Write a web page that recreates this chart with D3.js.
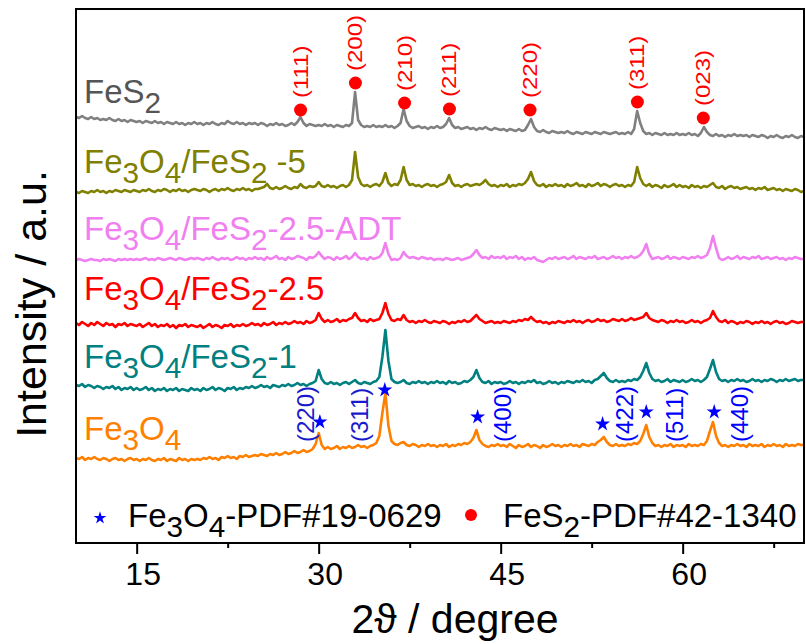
<!DOCTYPE html>
<html>
<head>
<meta charset="utf-8">
<script src="https://cdn.jsdelivr.net/npm/d3@7"></script>
<style>
    body { margin: 0; background: #fff; }
    text { font-family: "Liberation Sans", Arial, sans-serif; }
</style>
</head>
<body>
<svg id="chart" width="806" height="644"></svg>
<script>
// 2theta grid, one reading every 0.25 degree from 10 to 70
const twoTheta = d3.range(0, 241).map(i => 10 + i * 0.25);

// intensities (a.u., relative to each curve's own offset)
const fes2 = [
    0,-1,1,-1,-2,0,-2,-1,-3,-2,-3,-1,-3,-4,-2,-4,-3,-5,-3,-4,
    -5,-4,-6,-4,-5,-6,-4,-6,-5,-7,-5,-6,-7,-5,-7,-6,-8,-6,-7,-5,
    -7,-6,-8,-6,-7,-5,-7,-8,-6,-7,-4,-6,-7,-5,-7,-6,-8,-6,-7,-6,
    -8,-6,-7,-9,-7,-8,-6,-8,-7,-9,-8,-6,-8,-5,0,-6,-9,-7,-8,-9,
    -8,-9,-7,-9,-8,-10,-8,-9,-10,-8,-9,-6,25,-3,-8,-10,-9,-10,-8,-10,
    -9,-10,-8,-10,-9,-11,-9,-6,8,-4,-9,-11,-10,-9,-11,-10,-12,-10,-11,-9,
    -11,-10,-7,-1,-8,-11,-10,-12,-11,-10,-12,-11,-13,-11,-12,-10,-12,-13,-11,-12,
    -13,-12,-14,-12,-13,-14,-12,-14,-13,-8,-2,-10,-14,-15,-13,-15,-16,-14,-15,-16,
    -15,-16,-14,-16,-17,-15,-16,-17,-15,-16,-17,-15,-16,-17,-15,-16,-17,-16,-15,-17,
    -16,-17,-15,-17,-12,6,-6,-14,-17,-16,-18,-16,-17,-18,-16,-18,-17,-18,-16,-18,
    -17,-18,-16,-18,-17,-19,-16,-10,-15,-18,-19,-17,-19,-18,-20,-18,-19,-17,-19,-18,
    -19,-18,-20,-18,-19,-20,-18,-19,-21,-19,-20,-18,-20,-21,-19,-20,-18,-20,-21,-19,
    -20
];
const fe3o4Fes2_5 = [
    0,-1,1,0,-1,1,0,2,0,1,-1,1,0,2,1,0,2,1,0,2,
    1,0,2,1,3,1,0,2,1,3,2,0,2,1,3,1,2,0,2,3,
    2,1,3,2,0,2,3,1,3,2,4,2,1,3,2,4,2,3,1,3,
    3,4,5,8,4,3,5,3,4,6,4,3,5,4,8,5,4,6,5,6,
    10,6,5,7,5,6,4,6,7,5,7,12,40,15,8,6,7,5,7,8,
    6,10,19,9,6,8,7,12,25,12,7,8,6,7,5,7,8,6,7,5,
    7,8,10,17,9,6,7,5,7,8,6,7,8,7,9,12,8,6,7,5,
    7,6,8,5,7,6,8,7,9,13,20,11,7,6,8,5,7,6,8,6,
    7,5,8,6,7,9,6,7,5,8,6,7,9,6,8,7,5,7,8,6,
    7,5,7,6,10,25,14,8,6,8,5,7,6,4,7,5,6,8,5,7,
    5,6,4,7,5,6,4,6,5,7,9,5,4,6,3,5,6,4,5,3,
    4,5,3,4,2,4,3,5,2,3,4,2,3,1,3,2,1,3,2,0,
    1
];
const fe3o4Fes2_25Adt = [
    0,1,0,-1,0,1,0,0,-1,1,0,1,0,-1,1,0,1,0,1,0,
    1,0,1,2,0,1,0,2,1,0,1,2,1,0,2,1,0,1,2,1,
    2,1,0,2,1,3,1,0,2,1,2,0,1,3,1,2,0,2,1,3,
    1,2,0,3,1,2,4,1,2,0,3,1,2,4,3,2,0,3,2,4,
    8,4,1,3,2,0,3,1,2,4,1,3,7,3,1,2,0,3,1,2,
    3,7,17,6,0,1,0,2,8,4,2,3,2,1,3,2,1,2,0,1,
    1,0,2,1,0,1,2,0,1,2,3,6,10,5,2,3,1,4,2,3,
    2,4,1,3,2,4,1,3,0,2,1,3,0,-1,-2,0,2,1,3,1,
    2,3,1,2,4,1,3,2,1,3,2,4,1,2,3,1,2,4,2,3,
    1,3,2,4,2,3,5,9,16,6,1,2,3,1,2,4,1,3,2,1,
    3,2,1,3,2,4,2,3,5,12,24,12,2,0,1,3,1,2,4,1,
    3,2,1,3,2,4,1,2,3,1,2,3,1,2,0,2,1,3,2,1,
    1
];
const fe3o4Fes2_25 = [
    0,-2,1,-1,-3,0,-2,1,-1,-3,0,-2,-1,-4,-1,-2,0,-3,-1,-2,
    -3,-1,-4,-2,0,-3,-1,-4,-2,-3,-1,-4,-2,-5,-2,-3,-1,-4,-2,-3,
    -4,-2,-5,-3,-1,-4,-2,-3,-5,-2,-3,-1,-4,-2,-3,-1,-3,-2,0,-2,
    -1,-3,0,-2,-1,1,-2,0,-1,1,-1,0,2,0,1,-1,2,0,1,3,
    10,4,1,3,1,2,4,1,3,2,4,5,10,5,2,3,1,4,2,3,
    4,10,20,9,3,2,4,3,8,3,1,2,0,2,1,3,1,0,2,1,
    0,2,1,-1,1,0,2,1,3,1,2,5,8,4,2,0,1,2,0,1,
    0,2,1,0,2,1,3,2,4,3,6,3,1,2,0,1,-1,1,0,2,
    1,0,2,1,3,1,2,0,2,3,1,2,4,2,3,1,2,4,3,2,
    4,2,3,5,3,4,5,6,10,5,3,2,1,3,2,0,2,1,3,1,
    2,0,1,3,1,2,0,2,3,5,12,6,2,1,3,0,2,1,-1,1,
    0,2,1,-1,1,0,2,0,1,-1,1,2,0,1,-1,0,2,1,0,1,
    1
];
const fe3o4Fes2_1 = [
    0,-1,1,-2,0,-1,-3,-1,-2,-4,-2,-3,-1,-4,-2,-5,-3,-4,-2,-5,
    -3,-5,-4,-2,-5,-3,-6,-4,-5,-3,-6,-4,-5,-3,-6,-4,-5,-6,-3,-5,
    -4,-6,-3,-5,-4,-2,-5,-3,-4,-6,-3,-4,-2,-5,-3,-4,-2,-3,-1,-3,
    -2,0,-2,-1,-3,0,-1,-2,0,-1,1,-1,0,2,0,1,-1,1,2,4,
    15,6,2,1,3,1,2,0,2,3,1,3,5,2,1,3,2,1,3,4,
    8,28,55,24,6,3,2,3,5,2,1,3,2,4,2,3,1,3,2,4,
    2,3,1,4,2,3,1,2,4,3,5,8,15,7,3,2,4,1,3,2,
    3,1,2,4,2,3,1,3,2,4,3,5,2,3,1,2,4,2,3,1,
    3,2,4,3,2,4,3,5,3,4,2,5,6,9,12,7,4,3,5,3,
    4,3,5,4,6,5,8,14,22,12,6,4,5,3,4,6,3,5,4,3,
    5,3,4,6,4,5,3,5,8,16,25,13,6,4,5,3,5,4,6,4,
    5,3,4,6,4,5,3,5,4,6,5,3,5,4,6,4,5,6,4,5,
    5
];
const fe3o4 = [
    0,-1,1,-2,0,-1,1,-1,-2,0,-1,-3,-1,0,-2,-1,-3,-1,0,-2,
    -1,-3,-1,-2,0,-2,-3,-1,-2,0,-3,-1,-2,-3,0,-2,-1,-3,-1,-2,
    -1,-2,0,-1,1,-1,0,-2,1,0,2,0,1,-1,2,1,3,1,2,3,
    2,4,3,2,4,3,5,3,4,6,4,5,7,5,6,8,6,7,9,14,
    25,13,9,11,9,10,12,9,11,10,12,10,11,13,11,12,10,12,13,15,
    22,45,65,32,17,14,13,15,16,13,12,14,13,11,13,12,14,12,13,11,
    13,12,14,11,13,12,14,13,15,14,16,20,28,18,14,12,11,13,12,14,
    12,13,11,14,12,10,13,11,12,14,11,13,12,10,13,11,12,14,12,13,
    11,13,12,14,12,13,11,14,13,12,14,13,16,18,21,16,13,12,14,12,
    13,12,14,13,15,14,17,24,33,21,15,12,13,11,13,12,14,11,13,12,
    13,11,14,12,13,12,14,13,17,27,36,22,15,12,13,11,13,12,14,12,
    13,11,14,12,13,12,14,11,13,12,14,12,13,11,14,12,13,12,14,13,
    13
];

const seriesNames = ["FeS_2", "Fe_3O_4/FeS_2 -5", "Fe_3O_4/FeS_2-2.5-ADT", "Fe_3O_4/FeS_2-2.5", "Fe_3O_4/FeS_2-1", "Fe_3O_4"];
const seriesOffsets = [426, 351, 283, 220, 158, 85];
const seriesValues = [fes2, fe3o4Fes2_5, fe3o4Fes2_25Adt, fe3o4Fes2_25, fe3o4Fes2_1, fe3o4];

// reference peaks
const fes2Peaks = [28.51, 33.03, 37.08, 40.78, 47.42, 56.27, 61.70];
const fes2Hkl = ["(111)", "(200)", "(210)", "(211)", "(220)", "(311)", "(023)"];
const fes2MarkerY = [433, 460, 440, 434, 433, 441, 425];
const fe3o4Peaks = [30.1, 35.45, 43.1, 53.4, 57.0, 62.6];
const fe3o4Hkl = ["(220)", "(311)", "(400)", "(422)", "(511)", "(440)"];
const fe3o4MarkerY = [121, 153, 126, 119, 131, 131];

const majorTicks = [15, 30, 45, 60];
const minorTicks = [22.5, 37.5, 52.5, 67.5];

// styles / layout
const SERIES_COLORS = ["#808080", "#808000", "#f080f0", "#ff0000", "#008080", "#ff8000"];
const LABEL_COLORS = ["#555555", "#808000", "#f080f0", "#ff0000", "#008080", "#ff8000"];
const LABEL_BASELINE = [103, 173, 240, 300, 368, 440];
const HKL_DX = [-14, -25, 25, 22, 29, 26];
const HKL_SERIF = [true, true, false, false, false, false];
const PLOT = {left: 76, right: 804, top: 9, bottom: 543};

const svg = d3.select("#chart");

const x = d3.scaleLinear().domain([10, 70]).range([PLOT.left, PLOT.right]);
const y = d3.scaleLinear().domain([0, 534]).range([PLOT.bottom, PLOT.top]);

// text with "_n" subscripts
function richText(sel, str, size) {
    const shift = size * 0.3;
    let lowered = false;
    str.split(/_(\d)/).forEach((part, i) => {
        if (!part) return;
        const sub = i % 2 === 1;
        const t = sel.append("tspan").text(part);
        if (sub) {
            t.attr("font-size", size * 0.9).attr("dy", lowered ? 0 : shift);
            lowered = true;
        } else if (lowered) {
            t.attr("dy", -shift);
            lowered = false;
        }
    });
}

// curves
seriesValues.forEach((vals, s) => {
    const line = d3.line()
        .x((d, i) => x(twoTheta[i]))
        .y(d => y(seriesOffsets[s] + d));
    svg.append("path")
        .datum(vals)
        .attr("d", line)
        .attr("fill", "none")
        .attr("stroke", SERIES_COLORS[s])
        .attr("stroke-width", 2.6)
        .attr("stroke-linejoin", "round");

    const label = svg.append("text")
        .attr("x", 84)
        .attr("y", LABEL_BASELINE[s])
        .attr("font-size", 33)
        .attr("fill", LABEL_COLORS[s]);
    richText(label, seriesNames[s], 33);
});

// FeS2 markers
fes2Peaks.forEach((p, i) => {
    svg.append("circle")
        .attr("cx", x(p))
        .attr("cy", y(fes2MarkerY[i]))
        .attr("r", 6.5)
        .attr("fill", "#ff0000");
    svg.append("text")
        .attr("transform", `translate(${x(p) + 7},${y(fes2MarkerY[i]) - 12}) rotate(-90) scale(1,0.82)`)
        .attr("font-size", 24)
        .attr("fill", "#ff0000")
        .text(fes2Hkl[i]);
});

// Fe3O4 markers
const star = d3.symbol().type(d3.symbolStar).size(70);
fe3o4Peaks.forEach((p, i) => {
    svg.append("path")
        .attr("d", star())
        .attr("transform", `translate(${x(p)},${y(fe3o4MarkerY[i])})`)
        .attr("fill", "#0000ff");
    svg.append("text")
        .attr("transform", `translate(${x(p) + HKL_DX[i] + 8},442) rotate(-90)`)
        .attr("font-size", 24)
        .attr("font-family", HKL_SERIF[i] ? "Liberation Serif, serif" : null)
        .attr("fill", HKL_SERIF[i] ? "#1a1acc" : "#0000ff")
        .text(fe3o4Hkl[i]);
});

// legend
svg.append("path")
    .attr("d", d3.symbol().type(d3.symbolStar).size(50)())
    .attr("transform", "translate(100,518)")
    .attr("fill", "#0000ff");
richText(svg.append("text").attr("x", 128).attr("y", 527).attr("font-size", 33).attr("fill", "#000"),
    "Fe_3O_4-PDF#19-0629", 33);
svg.append("circle").attr("cx", 471).attr("cy", 515).attr("r", 6).attr("fill", "#ff0000");
richText(svg.append("text").attr("x", 503).attr("y", 527).attr("font-size", 33).attr("fill", "#000"),
    "FeS_2-PDF#42-1340", 33);

// x axis
const xAxis = svg.append("g")
    .attr("transform", `translate(0,${PLOT.bottom})`)
    .call(d3.axisBottom(x).tickValues(majorTicks).tickSize(11).tickPadding(8).tickFormat(d3.format("d")));
xAxis.select(".domain").remove();
xAxis.selectAll("line").attr("stroke", "#000").attr("stroke-width", 2);
xAxis.selectAll("text")
    .attr("font-size", 32)
    .attr("font-family", "Liberation Sans, Arial, sans-serif")
    .attr("dx", 6)
    .attr("fill", "#000");

const xMinor = svg.append("g")
    .attr("transform", `translate(0,${PLOT.bottom})`)
    .call(d3.axisBottom(x).tickValues(minorTicks).tickSize(5).tickFormat(""));
xMinor.select(".domain").remove();
xMinor.selectAll("line").attr("stroke", "#000").attr("stroke-width", 2);

// frame
svg.append("rect")
    .attr("x", PLOT.left)
    .attr("y", PLOT.top)
    .attr("width", PLOT.right - PLOT.left)
    .attr("height", PLOT.bottom - PLOT.top)
    .attr("fill", "none")
    .attr("stroke", "#000")
    .attr("stroke-width", 2);

// axis titles
svg.append("text")
    .attr("x", 455)
    .attr("y", 633)
    .attr("text-anchor", "middle")
    .attr("font-size", 41)
    .text("2\u03d1 / degree");

svg.append("text")
    .attr("transform", "translate(46,304) rotate(-90)")
    .attr("text-anchor", "middle")
    .attr("font-size", 43)
    .text("Intensity / a.u.");
</script>
</body>
</html>
